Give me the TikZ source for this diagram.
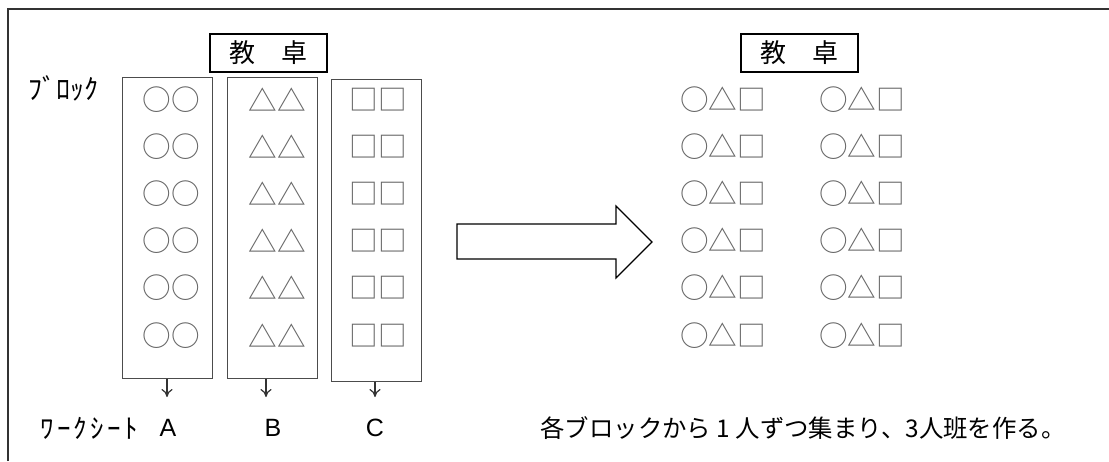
\documentclass[tikz,border=0pt]{standalone}
\usepackage{fontspec}
\setmainfont{Liberation Sans}
\newfontfamily\jpfont{Noto Sans CJK JP}
\usetikzlibrary{arrows.meta}
\tikzset{
  desk/.style={draw, line width=1pt, minimum width=58.5pt, minimum height=19pt, inner sep=0pt,
    font=\jpfont\fontsize{13pt}{13pt}\selectfont},
  blockbox/.style={draw=black!70, line width=0.5pt, minimum width=45pt, inner sep=0pt},
  seat/.style={text=black!60, inner sep=0pt, font=\jpfont\fontsize{14.3pt}{14.3pt}\selectfont},
  caption/.style={inner sep=0pt, font=\jpfont\fontsize{12.2pt}{12.2pt}\selectfont},
  sheet/.style={inner sep=0pt, font=\fontsize{12.5pt}{12.5pt}\selectfont},
  pick/.style={draw=black!80, line width=0.6pt, -{To[length=4pt,width=5.5pt]}},
}
\begin{document}
\begin{tikzpicture}[x=0.5pt, y=-0.5pt]
        \useasboundingbox (0,0) rectangle (1109,461);
        \draw[line width=0.8pt, black!80] (8,461) -- (8,9) -- (1109,9);

        % before
        \node[desk] (deskL) at (268.5,53) {教　卓};
        \node[caption, font=\jpfont\fontsize{14pt}{14pt}\selectfont] (block) at (63,88) {ﾌﾞﾛｯｸ};

        \node[blockbox, minimum height=150.5pt] (blockA) at (167,227.5) {};
        \node[blockbox, minimum height=150.5pt] (blockB) at (272,227.5) {};
        \node[blockbox, minimum height=151pt] (blockC) at (376,230) {};

        \foreach \r/\y in {1/100,2/147,3/194,4/241,5/288,6/336} {
            \node[seat] (a\r) at (171,\y) {○○};
            \node[seat] (b\r) at (277,\y) {△△};
            \node[seat] (c\r) at (378,\y) {□□};
        }

        \coordinate (endA) at (167,397);
        \coordinate (endB) at (266,397);
        \coordinate (endC) at (375,397);
        \draw[pick] (blockA.south -| endA) -- (endA);
        \draw[pick] (blockB.south -| endB) -- (endB);
        \draw[pick] (blockC.south -| endC) -- (endC);

        \node[caption, font=\jpfont\addfontfeature{LetterSpace=12}\fontsize{13.5pt}{13.5pt}\selectfont] (sheet) at (89,428) {ﾜｰｸｼｰﾄ};
        \node[sheet] (sheetA) at (168,428) {A};
        \node[sheet] (sheetB) at (273,428) {B};
        \node[sheet] (sheetC) at (375,428) {C};

        % big arrow
        \draw[line width=0.6pt] (457,224) -- (616,224) -- (616,206) -- (652,242)
            -- (616,278) -- (616,259) -- (457,259) -- cycle;

        % after
        \node[desk] (deskR) at (799,53) {教　卓};
        \foreach \r/\y in {1/100,2/147,3/194,4/241,5/288,6/336} {
            \node[seat] (p\r) at (723,\y) {○△□};
            \node[seat] (q\r) at (862,\y) {○△□};
        }

        \node[caption, anchor=west] (rule) at (540,428) {各ブロックから 1 人ずつ集まり、3人班を作る。};
    \end{tikzpicture}
\end{document}
